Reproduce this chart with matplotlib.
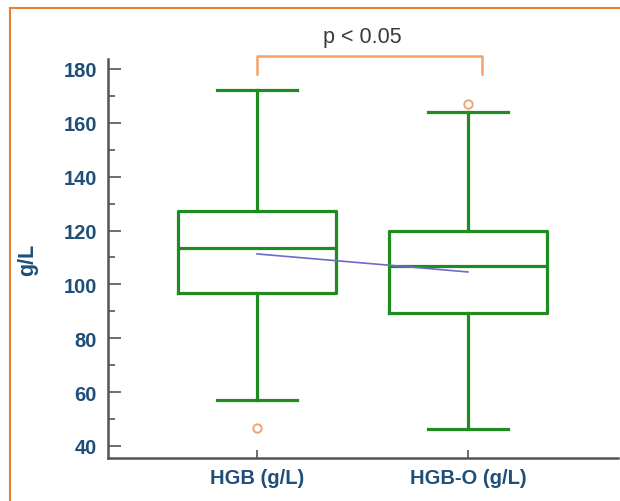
import matplotlib.pyplot as plt
from matplotlib.lines import Line2D

# Box plot summary values (g/L)
groups = ['HGB (g/L)', 'HGB-O (g/L)']
whisker_low = [57.1, 46.2]
q1 = [96.8, 89.4]
medians = [113.5, 106.8]
q3 = [127.3, 119.8]
whisker_high = [172.2, 164.2]
means = [111.3, 104.6]
outliers = [[46.8], [167.0]]

green = '#1f8c1f'
blue = '#1f4e79'
orange = '#ed7d31'

plt.rcParams['font.family'] = ['Liberation Sans', 'DejaVu Sans']

fig = plt.figure(figsize=(6.2, 5.02), dpi=100)
ax = fig.add_axes([108 / 620, 43 / 502, 510 / 620, 399 / 502])

stats = []
for i in range(len(groups)):
    stats.append({'whislo': whisker_low[i], 'q1': q1[i], 'med': medians[i],
                  'q3': q3[i], 'whishi': whisker_high[i], 'fliers': outliers[i]})

positions = [1, 2]
line_style = dict(color=green, linewidth=2.3)
ax.bxp(stats, positions=positions, widths=0.75, showfliers=True,
       boxprops=line_style, medianprops=line_style, whiskerprops=line_style,
       capprops=line_style, capwidths=0.375,
       flierprops=dict(marker='o', markerfacecolor='none', markeredgecolor='#f5a36e',
                       markersize=6, markeredgewidth=1.4))

# line joining the group means
ax.plot(positions, means, color='#6b6bc8', linewidth=1.2, zorder=5)

ax.set_xlim(0.294, 2.711)
ax.set_ylim(35.5, 183.7)
ax.set_yticks(range(40, 181, 20))
ax.set_yticks(range(50, 180, 20), minor=True)
ax.set_xticks(positions)
ax.set_xticklabels(groups)

for side in ['top', 'right']:
    ax.spines[side].set_visible(False)
for side in ['left', 'bottom']:
    ax.spines[side].set_color('#555555')
    ax.spines[side].set_linewidth(1.8)

ax.tick_params(axis='y', which='major', direction='in', length=9, width=1.2,
               color='#555555', labelcolor=blue, labelsize=14.5, pad=8)
ax.tick_params(axis='y', which='minor', direction='in', length=5, width=1.2,
               color='#555555')
ax.tick_params(axis='x', which='major', direction='in', length=6, width=1.2,
               color='#555555', labelcolor=blue, labelsize=14.5, pad=7)
for lbl in ax.get_xticklabels() + ax.get_yticklabels():
    lbl.set_fontweight('bold')

ax.set_ylabel('g/L', color=blue, fontsize=15.5, fontweight='bold')
ax.yaxis.set_label_coords(-70 / 510, 0.5)

# significance bracket
ax.plot([1, 1, 2.066, 2.066], [178.1, 184.8, 184.8, 178.1], color='#f4a46a',
        linewidth=1.8, clip_on=False)
ax.text(1.5, 192.2, 'p < 0.05', ha='center', va='center', fontsize=15.5,
        color='#3a3a3a', clip_on=False)

# orange frame along the top and left edges
fig.add_artist(Line2D([10 / 620, 1], [1 - 9 / 502, 1 - 9 / 502],
                      color=orange, linewidth=1.5, transform=fig.transFigure))
fig.add_artist(Line2D([10 / 620, 10 / 620], [0, 1 - 9 / 502],
                      color=orange, linewidth=1.5, transform=fig.transFigure))

fig.savefig('out.png', dpi=100)
